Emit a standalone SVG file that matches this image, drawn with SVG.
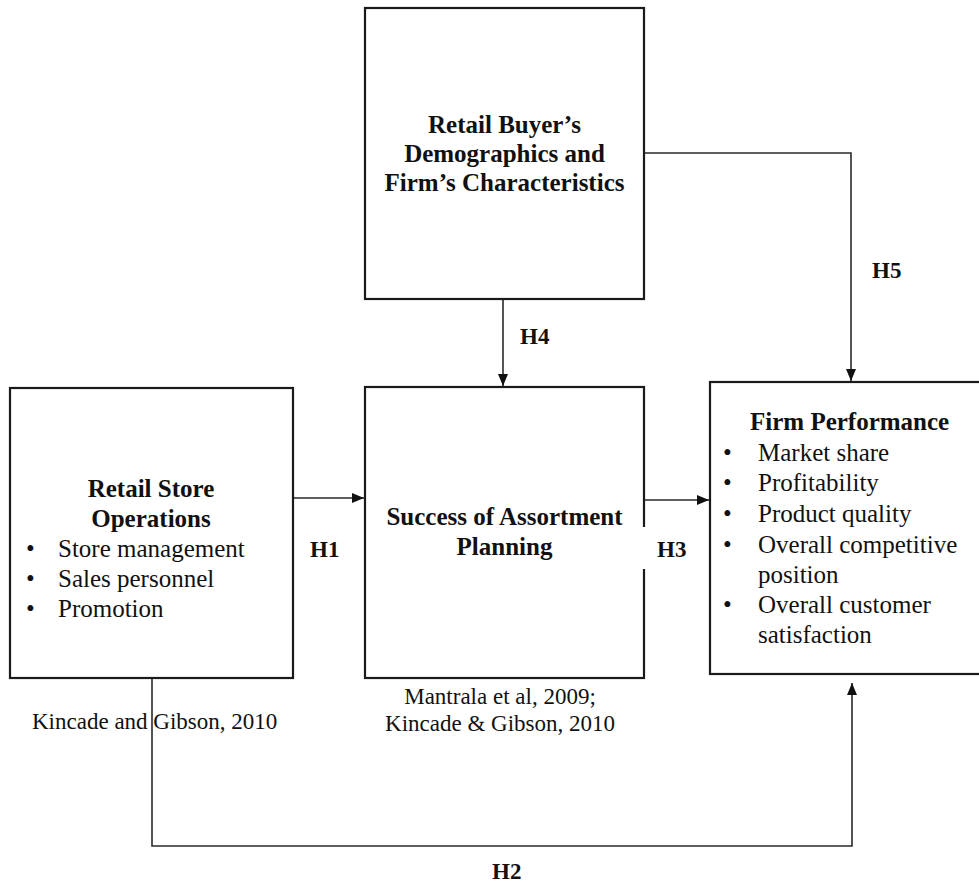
<svg xmlns="http://www.w3.org/2000/svg" width="979" height="884" viewBox="0 0 979 884">
<defs>
<style>
.box{fill:#fff;stroke:#1a1a1a;stroke-width:2.2}
.con{fill:none;stroke:#2a2a2a;stroke-width:1.6}
.t{font-family:"Liberation Serif","Times New Roman",serif;fill:#111}
.b{font-weight:bold;font-size:25px}
.r{font-size:25px}
.c{font-size:23px}
.h{font-family:"Liberation Serif","Times New Roman",serif;font-weight:bold;font-size:23px;fill:#111}
</style>
<marker id="ah" markerWidth="12" markerHeight="10" refX="12" refY="5" orient="auto" markerUnits="userSpaceOnUse">
<path d="M0,0 L12,5 L0,10 Z" fill="#111"/>
</marker>
</defs>
<rect width="979" height="884" fill="#fff"/>

<g id="connectors">
<line class="con" x1="293" y1="498" x2="364" y2="498" marker-end="url(#ah)"/>
<line class="con" x1="644" y1="500" x2="709" y2="500" marker-end="url(#ah)"/>
<line class="con" x1="503" y1="299" x2="503" y2="386" marker-end="url(#ah)"/>
<polyline class="con" points="644,153 851,153 851,381" marker-end="url(#ah)"/>
<polyline class="con" points="152,678 152,846 852,846 852,683" marker-end="url(#ah)"/>
<text class="h" x="310" y="557">H1</text>
<text class="h" x="657" y="557">H3</text>
<text class="h" x="520" y="344">H4</text>
<text class="h" x="872" y="278">H5</text>
<text class="h" x="492" y="879">H2</text>
</g>

<g id="top-node">
<rect class="box" x="365" y="8" width="279" height="291"/>
<text class="t b" x="504.5" y="133" text-anchor="middle">Retail Buyer’s</text>
<text class="t b" x="504.5" y="162" text-anchor="middle">Demographics and</text>
<text class="t b" x="504.5" y="191" text-anchor="middle">Firm’s Characteristics</text>
</g>

<g id="left-node">
<rect class="box" x="10" y="388" width="283" height="290"/>
<text class="t b" x="151" y="497" text-anchor="middle">Retail Store</text>
<text class="t b" x="151" y="527" text-anchor="middle">Operations</text>
<text class="t r" x="26" y="557">•</text>
<text class="t r" x="58" y="557">Store management</text>
<text class="t r" x="26" y="587">•</text>
<text class="t r" x="58" y="587">Sales personnel</text>
<text class="t r" x="26" y="617">•</text>
<text class="t r" x="58" y="617">Promotion</text>
<text class="t c" x="32" y="729">Kincade and Gibson, 2010</text>
</g>

<g id="center-node">
<rect class="box" x="365" y="387" width="279" height="291"/>
<rect x="642" y="527" width="5" height="42" fill="#fff"/>
<text class="t b" x="504.5" y="525" text-anchor="middle">Success of Assortment</text>
<text class="t b" x="504.5" y="555" text-anchor="middle">Planning</text>
<text class="t c" x="500" y="704" text-anchor="middle">Mantrala et al, 2009;</text>
<text class="t c" x="500" y="731" text-anchor="middle">Kincade &amp; Gibson, 2010</text>
</g>

<g id="right-node">
<rect class="box" x="710" y="382" width="280" height="292"/>
<text class="t b" x="750" y="430">Firm Performance</text>
<text class="t r" x="723" y="461">•</text>
<text class="t r" x="758" y="461">Market share</text>
<text class="t r" x="723" y="491">•</text>
<text class="t r" x="758" y="491">Profitability</text>
<text class="t r" x="723" y="522">•</text>
<text class="t r" x="758" y="522">Product quality</text>
<text class="t r" x="723" y="553">•</text>
<text class="t r" x="758" y="553">Overall competitive</text>
<text class="t r" x="758" y="583">position</text>
<text class="t r" x="723" y="613">•</text>
<text class="t r" x="758" y="613">Overall customer</text>
<text class="t r" x="758" y="643">satisfaction</text>
</g>
</svg>
